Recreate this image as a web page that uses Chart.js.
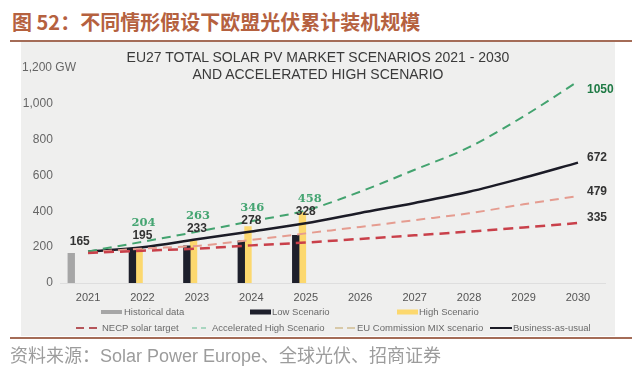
<!DOCTYPE html>
<html><head><meta charset="utf-8">
<script src="https://cdn.jsdelivr.net/npm/chart.js@4.4.1/dist/chart.umd.min.js"></script>
<style>
html,body{margin:0;padding:0;background:#fff;width:640px;height:382px;overflow:hidden;}
#wrap{position:relative;width:640px;height:382px;}
#panel{position:absolute;left:21px;top:42px;width:594px;height:294px;background:#efefee;}
.rule{position:absolute;left:10px;width:622px;height:2px;background:#a46c57;}
#title{position:absolute;left:12px;top:12px;font-weight:bold;font-size:20px;font-family:"Noto Sans CJK SC";color:#b5613f;white-space:nowrap;line-height:20px;}
#ctitle{position:absolute;left:21px;width:594px;top:49px;text-align:center;font-size:14px;font-family:"Liberation Sans";color:#3a3a3a;line-height:17px;}
#source{position:absolute;left:10px;top:347px;font-size:18px;font-family:"Liberation Sans","Noto Sans CJK SC";color:#9c9c9c;white-space:nowrap;line-height:18px;}
canvas{position:absolute;left:0;top:0;}
</style>
</head>
<body>
<div id="wrap">
  <div id="panel"></div>
  <div class="rule" style="top:40px"></div>
  <div class="rule" style="top:337px"></div>
  <div id="title">图 52：不同情形假设下欧盟光伏累计装机规模</div>
  <canvas id="c" width="640" height="382"></canvas>
  <div id="ctitle">EU27 TOTAL SOLAR PV MARKET SCENARIOS 2021 - 2030<br>AND ACCELERATED HIGH SCENARIO</div>
  <div id="source">资料来源：Solar Power Europe、全球光伏、招商证券</div>
</div>
<script>
// ---- data ----
const years = ['2021','2022','2023','2024','2025','2026','2027','2028','2029','2030'];
const historicalYears = [2021];
const historical = [165];
const scenarioYears = [2022, 2023, 2024, 2025];
const lowScenario = [190, 207, 236, 266];
const highScenario = [195, 235, 315, 395];
const necpTarget = [168, 180, 192, 210, 226, 246, 266, 287, 310, 335];
const acceleratedHigh = [176, 230, 286, 345, 405, 510, 632, 758, 930, 1125];
const euMix = [172, 192, 207, 240, 277, 313, 351, 389, 439, 485];
const businessAsUsual = [175, 200, 244, 287, 333, 391, 447, 509, 587, 672];
const historicalLabel = [165];
const midLabels = [195, 233, 278, 328];      // 2022-2025 (black)
const highLabels = [204, 263, 346, 458];     // 2022-2025 (green)
const endLabels = [1050, 672, 479, 335];     // 2030: accelerated, BAU, EU mix, NECP
const yTickLabels = ['0','200','400','600','800','1,000','1,200 GW'];

const C = {
  grey:'#a6a6a6', navy:'#1d1f2b', yellow:'#fcd86e',
  red:'#c9404a', green:'#43a36f', pink:'#e59c90', black:'#1b1b26'
};

const toXY = (xs, ys) => xs.map((x, i) => ({x: x, y: ys[i]}));

const labelPlugin = {
  id: 'labels',
  afterDatasetsDraw(chart) {
    const ctx = chart.ctx;
    const xs = chart.scales.x, ys = chart.scales.y;
    ctx.save();
    ctx.textAlign = 'center';
    ctx.textBaseline = 'middle';
    const gb = chart.getDatasetMeta(0).data[0];
    ctx.font = 'bold 12px "Liberation Sans"';
    ctx.fillStyle = '#333';
    ctx.fillText(String(historicalLabel[0]), gb.x + 8.5, ys.getPixelForValue(historicalLabel[0]) - 12);
    midLabels.forEach((v, i) => {
      const x = xs.getPixelForValue(i + 1);
      const y = ys.getPixelForValue(v) - 12.5;
      ctx.font = 'bold 12px "Liberation Sans"';
      ctx.fillStyle = '#333';
      ctx.fillText(String(v), x, y);
      ctx.font = 'bold 11.5px "DejaVu Serif"';
      ctx.fillStyle = '#45a572';
      ctx.fillText(String(highLabels[i]), x + (i === 3 ? 4 : 1), y - 13);
    });
    const xe = xs.getPixelForValue(years.length - 1) + 9;
    ctx.textAlign = 'left';
    const endColors = ['#1f7a45', '#333', '#333', '#333'];
    endLabels.forEach((v, i) => {
      ctx.font = 'bold 12px "Liberation Sans"';
      ctx.fillStyle = endColors[i];
      ctx.fillText(String(v), xe, ys.getPixelForValue(v) - 5);
    });
    ctx.font = '12px "Liberation Sans"';
    ctx.fillStyle = '#666';
    ctx.fillText(yTickLabels[yTickLabels.length - 1], 22, ys.getPixelForValue(1200));
    ctx.restore();
  },
  afterDraw(chart) {
    const ctx = chart.ctx;
    const ds = chart.data.datasets;
    ctx.save();
    ctx.font = '9.5px "Liberation Sans"';
    ctx.textBaseline = 'middle';
    ctx.textAlign = 'left';
    const row1 = [{d:0, sx:101, sw:21, tx:124, h:4}, {d:1, sx:250, sw:21, tx:272, h:5}, {d:2, sx:397, sw:21, tx:419, h:5}];
    row1.forEach(it => {
      ctx.fillStyle = ds[it.d].backgroundColor;
      ctx.fillRect(it.sx, 312 - it.h / 2, it.sw, it.h);
      ctx.fillStyle = '#6a6a6a';
      ctx.fillText(ds[it.d].label, it.tx, 312);
    });
    const row2 = [{d:3, sx:76, sw:21, tx:102, dash:[8,5], col:'#b5555a'}, {d:4, sx:192, sw:15, tx:212, dash:[5,4], col:'#a9d6c0'},
                  {d:5, sx:335, sw:20, tx:357, dash:[8,4], col:'#d8c9a8'}, {d:6, sx:490, sw:22, tx:513, dash:[], col:'#1b1b26'}];
    row2.forEach(it => {
      ctx.beginPath();
      ctx.setLineDash(it.dash);
      ctx.strokeStyle = it.col;
      ctx.lineWidth = 2;
      ctx.moveTo(it.sx, 328); ctx.lineTo(it.sx + it.sw, 328);
      ctx.stroke();
      ctx.setLineDash([]);
      ctx.fillStyle = '#6a6a6a';
      ctx.fillText(ds[it.d].label, it.tx, 328);
    });
    ctx.restore();
  }
};

const lineBase = {type:'line', xAxisID:'x', yAxisID:'y', pointRadius:0, fill:false, cubicInterpolationMode:'monotone', order:1};

new Chart(document.getElementById('c'), {
  type: 'bar',
  data: {
    labels: years,
    datasets: [
      {label:'Historical data', data: toXY(historicalYears, historical), backgroundColor:C.grey, xAxisID:'xb', yAxisID:'y', barThickness:6.7, order:5},
      {label:'Low Scenario', data: toXY(scenarioYears, lowScenario), backgroundColor:C.navy, xAxisID:'xb', yAxisID:'y', barThickness:6.7, order:5},
      {label:'High Scenario', data: toXY(scenarioYears, highScenario), backgroundColor:C.yellow, xAxisID:'xb', yAxisID:'y', barThickness:6.7, order:5},
      Object.assign({label:'NECP solar target', data: necpTarget, borderColor:C.red, borderWidth:2.5, borderDash:[10,6]}, lineBase),
      Object.assign({label:'Accelerated High Scenario', data: acceleratedHigh, borderColor:C.green, borderWidth:2, borderDash:[9,6]}, lineBase),
      Object.assign({label:'EU Commission MIX scenario', data: euMix, borderColor:C.pink, borderWidth:2, borderDash:[9,6]}, lineBase),
      Object.assign({label:'Business-as-usual', data: businessAsUsual, borderColor:C.black, borderWidth:2.5}, lineBase)
    ]
  },
  options: {
    responsive: false,
    animation: false,
    devicePixelRatio: 1,
    layout: {padding: {left:0, right:34.8, top:68, bottom:79}},
    plugins: {legend:{display:false}, tooltip:{enabled:false}, title:{display:false}},
    scales: {
      x: {
        type:'category', offset:true,
        grid:{display:false, drawTicks:false},
        border:{display:true, color:'#dedede', width:1},
        ticks:{color:'#555', font:{family:'Liberation Sans', size:11}, padding:8, maxRotation:0, autoSkip:false},
        afterFit: s => { s.height = 20; }
      },
      xb: {type:'linear', min:2020.5, max:2030.5, bounds:'data', offset:false, display:false, grid:{offset:false}},
      y: {
        min:0, max:1200,
        grid:{display:false, drawTicks:false},
        border:{display:false},
        ticks:{stepSize:200, color:'#666', font:{family:'Liberation Sans', size:12}, padding:8,
               callback:(v, i) => i === yTickLabels.length - 1 ? '' : yTickLabels[i]},
        afterFit: s => { s.width = 60.8; }
      }
    }
  },
  plugins: [labelPlugin]
});
</script>
</body></html>
